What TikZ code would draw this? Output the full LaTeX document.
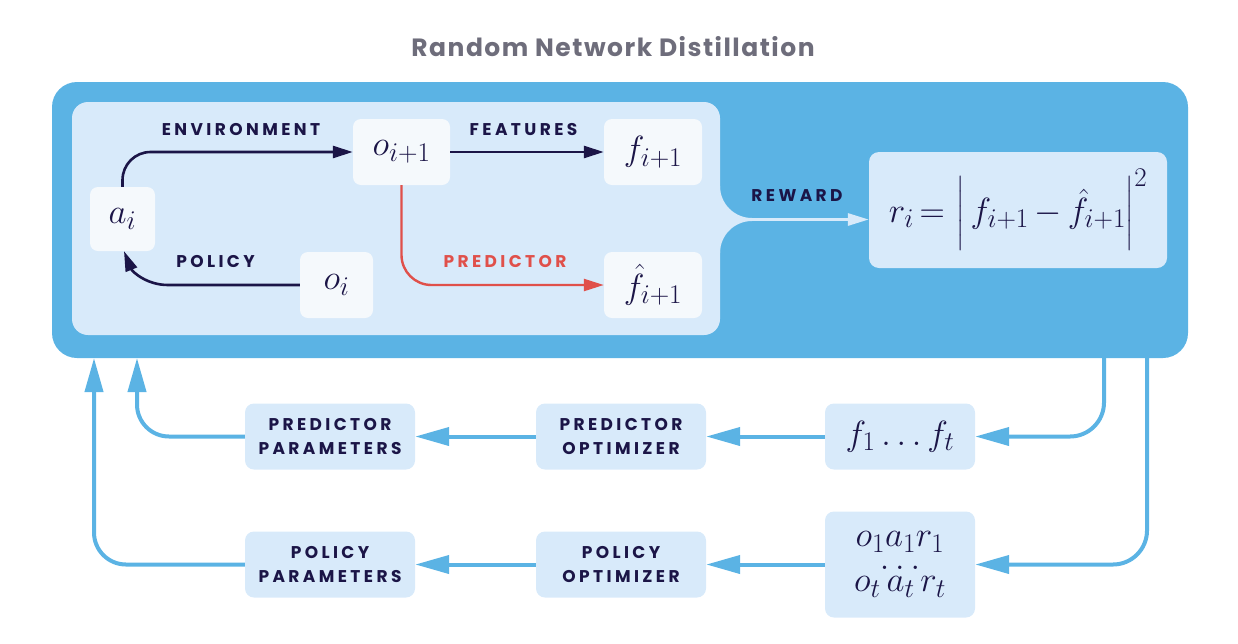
\RequirePackage{fix-cm}
\documentclass[tikz,border=0pt]{standalone}
\usepackage{amsmath}
\usepackage{fontspec}
\newfontfamily\lblfont{Poppins}[LetterSpace=20]
\newfontfamily\ttlfont{Poppins}[LetterSpace=6]
\DeclareMathSizes{35}{35}{27}{21}
\usetikzlibrary{arrows.meta}
\definecolor{outerblue}{HTML}{5BB3E4}
\definecolor{panel}{HTML}{D8EAFA}
\definecolor{nodewhite}{HTML}{F5F9FC}
\definecolor{navy}{HTML}{1B1547}
\definecolor{predred}{HTML}{E0504A}
\definecolor{titlegray}{HTML}{6E6D7B}
\newcommand\mathsz{\fontsize{35}{40}\selectfont}
\newcommand\oarfont{\fontsize{35}{22.5}\selectfont\lineskiplimit-100pt\relax}
\begin{document}
\begin{tikzpicture}[x=1pt,y=-1pt,
  wbox/.style={fill=nodewhite, rounded corners=8pt, minimum height=66pt, inner sep=0pt, text=navy, font=\mathsz},
  lbox/.style={fill=panel, rounded corners=9pt, minimum height=66pt, inner sep=0pt, text=navy},
  lbl/.style={font=\lblfont\fontsize{17}{19}\bfseries, text=navy, inner sep=0pt},
  lbl2/.style={font=\lblfont\fontsize{17}{24}\bfseries, text=navy, inner sep=0pt, align=center},
  darr/.style={draw=navy, line width=2.6pt, -{Triangle[length=20pt,width=12pt]}},
  rarr/.style={draw=predred, line width=2.4pt, -{Triangle[length=20pt,width=12pt]}},
  larr/.style={draw=panel, line width=3pt, -{Triangle[length=21pt,width=12pt]}},
  barr/.style={draw=outerblue, line width=4pt, -{Triangle[length=34pt,width=18pt]}}
]
\useasboundingbox (0,0) rectangle (1238,643);
% title
\node[font=\ttlfont\fontsize{25}{28}\bfseries, text=titlegray, inner sep=0pt] (title) at (613,47) {Random Network Distillation};
% outer blue box
\node[fill=outerblue, rounded corners=25pt, minimum width=1136pt, minimum height=276pt, inner sep=0pt] (outer) at (620,220) {};
% inner panel with tab
\fill[panel, rounded corners=16pt] (72,102) rectangle (720,335);
\fill[panel] (712,186) -- (720,186) .. controls (720,203.7) and (734.3,218) .. (752,218)
   -- (752,221) .. controls (734.3,221) and (720,235.3) .. (720,253) -- (712,253) -- cycle;
\coordinate (tab) at (751,219.5);
% inner nodes
\node[wbox, minimum width=65pt, minimum height=64pt] (ai) at (122.5,219) {$a_i$};
\node[wbox, minimum width=97pt] (oi1) at (401.5,152) {$o_{i+1}$};
\node[wbox, minimum width=98pt] (fi1) at (653,152) {$f_{i+1}$};
\node[wbox, minimum width=73pt] (oi) at (336.5,285) {$o_i$};
\node[wbox, minimum width=98pt] (fh) at (653,285) {$\hat{f}_{i+1}$};
% reward box
\node[fill=panel, rounded corners=10pt, minimum width=298pt, minimum height=116pt, inner sep=0pt, text=navy, font=\mathsz] (rw) at (1018,210)
  {$r_i\,{=}\,\left|\vrule height 42pt depth 24pt width 0pt\,f_{i+1}\,{-}\,\hat{f}_{i+1}\right|^2$};
% inner connectors
\draw[darr, rounded corners=28pt] (ai.north) |- (oi1.west);
\draw[darr] (oi1.east) -- (fi1.west);
\draw[darr] (oi.west) -- (168,285) to[out=180,in=-68] ([xshift=1.5pt]ai.south);
\draw[rarr, rounded corners=30pt] (oi1.south) |- (fh.west);
\draw[larr] (tab) -- (tab -| rw.west);
% inner labels
\node[lbl] (lenv) at (241,129.5) {ENVIRONMENT};
\node[lbl] (lfeat) at (523.5,129.5) {FEATURES};
\node[lbl] (lpol) at (215.5,262) {POLICY};
\node[lbl, text=predred] (lpred) at (505,262) {PREDICTOR};
\node[lbl] (lrew) at (797,196) {REWARD};
% bottom nodes
\node[lbox, minimum width=170pt, lbl2] (ppar) at (330,436.5) {PREDICTOR\\PARAMETERS};
\node[lbox, minimum width=170pt, lbl2] (popt) at (621,436.5) {PREDICTOR\\OPTIMIZER};
\node[lbox, minimum width=150pt, font=\mathsz] (fs) at (900,436.5) {$f_1\ldots f_t$};
\node[lbox, minimum width=170pt, lbl2] (qpar) at (330,564.5) {POLICY\\PARAMETERS};
\node[lbox, minimum width=170pt, lbl2] (qopt) at (621,564.5) {POLICY\\OPTIMIZER};
\node[lbox, minimum width=150pt, minimum height=106pt, align=center, font=\oarfont] (oar) at (900,564.5)
  {$o_1a_1r_1$\\$\ldots$\\$o_t\,a_t\,r_t$};
% blue connectors
\coordinate (d1) at (1104,358);
\coordinate (d2) at (1147,358);
\coordinate (u1) at (137,358);
\coordinate (u2) at (94,358);
\draw[barr, rounded corners=34pt] (d1) |- (fs.east);
\draw[barr, rounded corners=34pt] (d2) |- (oar.east);
\draw[barr] (fs.west) -- (popt.east);
\draw[barr] (popt.west) -- (ppar.east);
\draw[barr] (oar.west) -- (qopt.east);
\draw[barr] (qopt.west) -- (qpar.east);
\draw[barr, rounded corners=32pt] (ppar.west) -| (u1);
\draw[barr, rounded corners=32pt] (qpar.west) -| (u2);
\end{tikzpicture}
\end{document}
